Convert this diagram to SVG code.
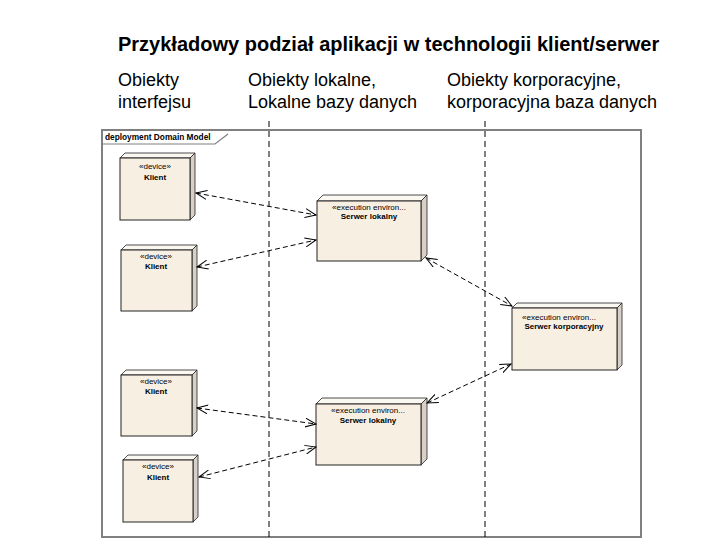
<svg xmlns="http://www.w3.org/2000/svg" width="720" height="540" viewBox="0 0 720 540">
<style>
.hdr{font-family:"Liberation Sans",Arial,sans-serif;font-size:18px;fill:#000}
.title{font-family:"Liberation Sans",Arial,sans-serif;font-size:20px;font-weight:bold;fill:#000}
.front{fill:#f8efe3;stroke:#222;stroke-width:1}
.top{fill:#fbf7f1;stroke:#222;stroke-width:0.8}
.side{fill:#d8d0c6;stroke:#222;stroke-width:0.8}
.st{font-family:"Liberation Sans",Arial,sans-serif;font-size:8px;fill:#000;text-anchor:middle}
.nm{font-family:"Liberation Sans",Arial,sans-serif;font-size:8px;font-weight:bold;fill:#000;text-anchor:middle}
.conn{fill:none;stroke:#000;stroke-width:1;stroke-dasharray:5,3;marker-start:url(#ah);marker-end:url(#ah)}
.lane{stroke:#000;stroke-width:1;stroke-dasharray:6,4}
</style>
<defs>
<marker id="ah" viewBox="0 0 12 10" refX="11" refY="5" markerWidth="12" markerHeight="10" markerUnits="userSpaceOnUse" orient="auto-start-reverse">
<path d="M0,0.5 L11,5 L0,9.5" fill="none" stroke="#000" stroke-width="1"/>
</marker>
</defs>
<rect width="720" height="540" fill="#fff"/>
<g id="headings">
<text class="title" x="118" y="51">Przykładowy podział aplikacji w technologii klient/serwer</text>
<text class="hdr" x="118" y="86">Obiekty</text>
<text class="hdr" x="118" y="108">interfejsu</text>
<text class="hdr" x="248" y="86">Obiekty lokalne,</text>
<text class="hdr" x="248" y="108">Lokalne bazy danych</text>
<text class="hdr" x="447" y="86">Obiekty korporacyjne,</text>
<text class="hdr" x="447" y="108">korporacyjna baza danych</text>
</g>
<g id="frame">
<rect x="102" y="130" width="539" height="407" fill="none" stroke="#808080" stroke-width="2"/>
<path d="M102,144 H215 L228,134" fill="none" stroke="#808080" stroke-width="1.2"/>
<text x="105" y="140" font-family="Liberation Sans,Arial,sans-serif" font-size="8.3" font-weight="bold">deployment Domain Model</text>
</g>
<g id="lanes">
<line class="lane" x1="269" y1="121" x2="269" y2="540"/>
<line class="lane" x1="485" y1="121" x2="485" y2="540"/>
</g>
<g id="klient1">
<path class="top" d="M120,158 L125,153 H195 L190,158 Z"/>
<path class="side" d="M190,158 L195,153 V215 L190,220 Z"/>
<rect class="front" x="120" y="158" width="70" height="62"/>
<text class="st" x="155" y="169">«device»</text>
<text class="nm" x="155" y="180">Klient</text>
</g>
<g id="klient2">
<path class="top" d="M121,250 L126,245 H197 L192,250 Z"/>
<path class="side" d="M192,250 L197,245 V306 L192,311 Z"/>
<rect class="front" x="121" y="250" width="71" height="61"/>
<text class="st" x="156" y="259">«device»</text>
<text class="nm" x="156" y="269">Klient</text>
</g>
<g id="klient3">
<path class="top" d="M121,375 L126,370 H197 L192,375 Z"/>
<path class="side" d="M192,375 L197,370 V431 L192,436 Z"/>
<rect class="front" x="121" y="375" width="71" height="61"/>
<text class="st" x="156" y="384">«device»</text>
<text class="nm" x="156" y="394">Klient</text>
</g>
<g id="klient4">
<path class="top" d="M123,460 L128,455 H198 L193,460 Z"/>
<path class="side" d="M193,460 L198,455 V517 L193,522 Z"/>
<rect class="front" x="123" y="460" width="70" height="62"/>
<text class="st" x="158" y="469">«device»</text>
<text class="nm" x="158" y="480">Klient</text>
</g>
<g id="serwer-lokalny1">
<path class="top" d="M317,201 L323,195 H427 L421,201 Z"/>
<path class="side" d="M421,201 L427,195 V255 L421,261 Z"/>
<rect class="front" x="317" y="201" width="104" height="60"/>
<text class="st" x="369" y="210">«execution environ...</text>
<text class="nm" x="369" y="219">Serwer lokalny</text>
</g>
<g id="serwer-lokalny2">
<path class="top" d="M316,404 L322,398 H427 L421,404 Z"/>
<path class="side" d="M421,404 L427,398 V459 L421,465 Z"/>
<rect class="front" x="316" y="404" width="105" height="61"/>
<text class="st" x="368" y="413">«execution environ...</text>
<text class="nm" x="368" y="423">Serwer lokalny</text>
</g>
<g id="serwer-korporacyjny">
<path class="top" d="M512,308 L517,303 H622 L617,308 Z"/>
<path class="side" d="M617,308 L622,303 V365 L617,370 Z"/>
<rect class="front" x="512" y="308" width="105" height="62"/>
<text class="st" x="559" y="320">«execution environ...</text>
<text class="nm" x="564" y="329">Serwer korporacyjny</text>
</g>
<g id="connectors">
<line class="conn" x1="196" y1="193" x2="316" y2="215"/>
<line class="conn" x1="197" y1="267" x2="316" y2="240"/>
<line class="conn" x1="197" y1="408" x2="316" y2="424"/>
<line class="conn" x1="199" y1="477" x2="316" y2="447"/>
<line class="conn" x1="426" y1="258" x2="512" y2="306"/>
<line class="conn" x1="427" y1="403" x2="511" y2="364"/>
</g>
</svg>
